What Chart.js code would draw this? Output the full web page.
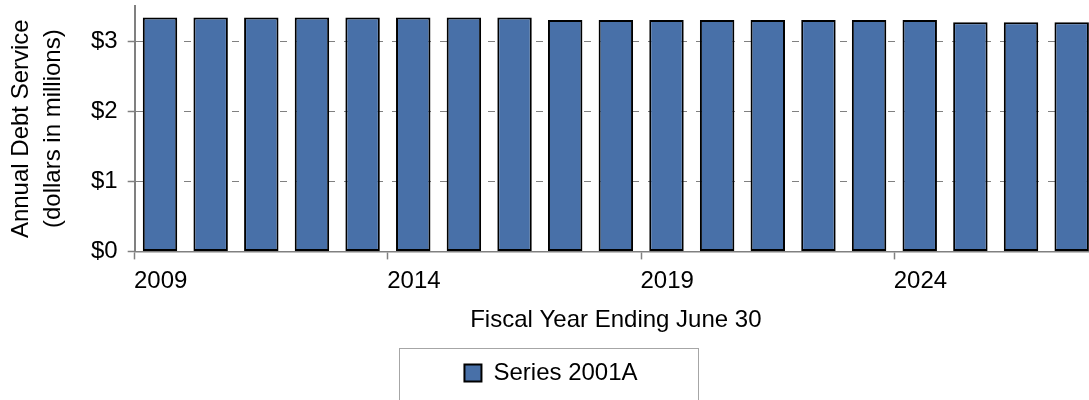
<!DOCTYPE html>
<html>
<head>
<meta charset="utf-8">
<title>Annual Debt Service</title>
<script src="https://cdn.jsdelivr.net/npm/chart.js@4.4.1/dist/chart.umd.min.js"></script>
<style>
  html, body { margin: 0; padding: 0; background: #fff; overflow: hidden; }
  /* plot runs a little past the right edge in the original, so the canvas is wider and clipped */
  #wrap { width: 1089px; height: 400px; overflow: hidden; }
</style>
</head>
<body>
<div id="wrap"><canvas id="chart-debt" width="1097" height="400"></canvas></div>
<script>
// ------------------------------------------------------------
// Series 2001A -- annual debt service by fiscal year
// ------------------------------------------------------------
var fiscalYears = ['2009', '2010', '2011', '2012', '2013', '2014', '2015', '2016', '2017', '2018',
                   '2019', '2020', '2021', '2022', '2023', '2024', '2025', '2026', '2027'];
var series2001A = [3.335, 3.335, 3.335, 3.335, 3.335, 3.335, 3.335, 3.335, 3.30, 3.30,
                   3.30, 3.30, 3.30, 3.30, 3.30, 3.30, 3.27, 3.27, 3.27];
var yTickValues = [0, 1, 2, 3];
var xTickLabels = ['2009', '2014', '2019', '2024'];

var FONT = "'Liberation Sans', Arial, sans-serif";
var AXIS_GRAY = '#808080';

// light frame round the legend, like the original
var legendFrame = {
  id: 'legendFrame',
  afterDraw: function(chart) {
    var lg = chart.legend;
    if (!lg || !lg.legendHitBoxes || !lg.legendHitBoxes.length) return;
    var hb = lg.legendHitBoxes[0];
    var ctx = chart.ctx;
    ctx.save();
    ctx.strokeStyle = '#a6a6a6';
    ctx.lineWidth = 1;
    ctx.strokeRect(Math.round(hb.left - 65) + 0.5, Math.round(lg.top + 1) + 0.5, 299, 120);
    ctx.restore();
  }
};

new Chart(document.getElementById('chart-debt'), {
  type: 'bar',
  data: {
    labels: fiscalYears,
    datasets: [{
      label: 'Series 2001A',
      data: series2001A,
      backgroundColor: '#4870a8',
      borderColor: '#000',
      borderWidth: 2,
      borderSkipped: false,
      categoryPercentage: 1,
      barPercentage: 0.68
    }]
  },
  options: {
    responsive: false,
    animation: false,
    layout: { padding: { top: 6, left: 5, right: 0, bottom: 5 } },
    plugins: {
      tooltip: { enabled: false },
      legend: {
        position: 'bottom',
        labels: {
          color: '#000',
          font: { family: FONT, size: 24 },
          boxWidth: 17,
          boxHeight: 17,
          padding: 14
        }
      }
    },
    scales: {
      x: {
        offset: true,
        afterFit: function(scale) { scale.paddingLeft = 0; scale.paddingRight = 0; },
        grid: {
          offset: true,
          drawOnChartArea: false,
          drawTicks: true,
          tickLength: 8,
          tickWidth: 1.5,
          tickColor: function(c) { return xTickLabels.indexOf(fiscalYears[c.index]) >= 0 ? AXIS_GRAY : 'rgba(0,0,0,0)'; }
        },
        border: { color: AXIS_GRAY, width: 1.5 },
        ticks: {
          autoSkip: false,
          maxRotation: 0,
          minRotation: 0,
          align: 'start',
          labelOffset: -26,
          padding: 8,
          color: '#000',
          font: { family: FONT, size: 24 },
          callback: function(v, i) {
            var lbl = fiscalYears[i];
            return xTickLabels.indexOf(lbl) >= 0 ? lbl : '';
          }
        },
        title: {
          display: true,
          text: 'Fiscal Year Ending June 30',
          color: '#000',
          font: { family: FONT, size: 24, lineHeight: 1.2 },
          padding: { top: 2, bottom: 12 }
        }
      },
      y: {
        min: 0,
        max: 3.5,
        afterBuildTicks: function(scale) {
          scale.ticks = yTickValues.map(function(v) { return { value: v }; });
        },
        afterFit: function(scale) { scale.paddingTop = 0; scale.paddingBottom = 0; },
        grid: {
          color: AXIS_GRAY,
          lineWidth: 1,
          drawTicks: true,
          tickLength: 7,
          tickWidth: 1.5,
          tickColor: AXIS_GRAY,
          tickBorderDash: []
        },
        border: { color: AXIS_GRAY, width: 2, dash: [7, 9] },
        ticks: {
          padding: 10,
          color: '#000',
          font: { family: FONT, size: 24 },
          callback: function(v) { return '$' + v; }
        },
        title: {
          display: true,
          text: ['Annual Debt Service', '(dollars in millions)'],
          color: '#000',
          font: { family: FONT, size: 24, lineHeight: 1.333 },
          padding: { top: 0, bottom: 12 }
        }
      }
    }
  },
  plugins: [legendFrame]
});
</script>
</body>
</html>
